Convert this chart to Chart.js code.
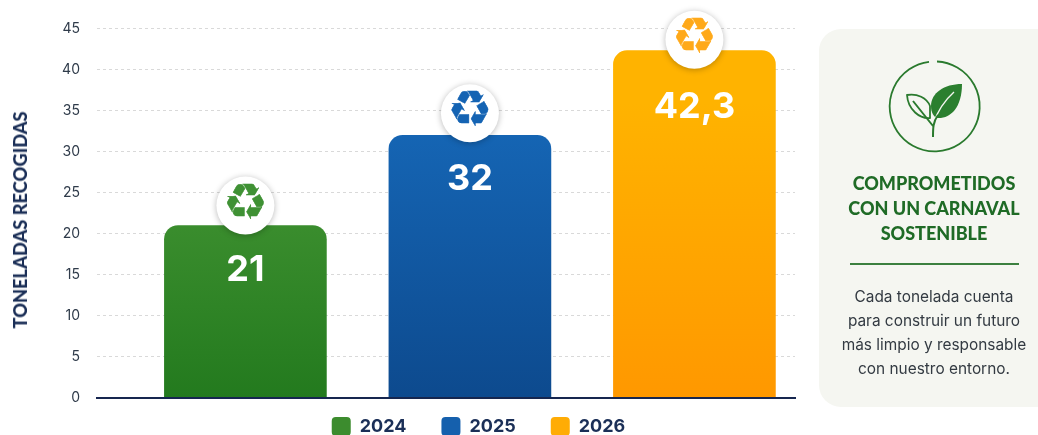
<!DOCTYPE html>
<html lang="es"><head><meta charset="utf-8">
<script src="https://cdn.jsdelivr.net/npm/chart.js@4/dist/chart.umd.min.js"></script>
<style>
html,body{margin:0;padding:0;background:#fff;overflow:hidden}
#wrap{position:relative;width:1038px;height:435px;overflow:hidden}
#cv{position:absolute;left:0;top:0}
#ytitle{position:absolute;left:20px;top:220px;transform:translate(-50%,-50%) rotate(-90deg);white-space:nowrap;font:900 18.3px "Lato",sans-serif;color:#1b2f57}
#panel{position:absolute;left:819px;top:29px;width:240px;height:378px;background:#f5f6f1;border-radius:22px}
#ic{position:absolute;left:880px;top:52px}
.t{position:absolute;left:819px;width:230px;text-align:center;white-space:nowrap}
#h{top:171px;font:900 18px/25px "Lato",sans-serif;color:#1f6b26}
#rule{position:absolute;left:850px;width:169px;top:263px;height:2px;background:#3c8040}
#b{top:285px;font:400 15.4px/24px "Inter",sans-serif;color:#333a42}
</style></head><body>
<div id="wrap">
<div id="panel"></div>
<canvas id="cv" width="956" height="435"></canvas>
<div id="ytitle">TONELADAS RECOGIDAS</div>
<svg id="ic" width="110" height="110" viewBox="880 52 110 110">
<path d="M937 61.5A45 45 0 1 1 929 61.8" fill="none" stroke="#2a7a2e" stroke-width="1.8"/>
<path d="M962 84C944 84 931 93 931 106C931 113 934 117 937 118C950 119 962 108 962 84Z" fill="#2b7f2f"/>
<path d="M954 92C945 100 938 110 933 124" fill="none" stroke="#f5f6f1" stroke-width="1.4"/>
<path d="M907 95C917 93 927 98 930 106L930 118C920 119 908 110 907 95Z" fill="#f5f6f1" stroke="#2a7a2e" stroke-width="1.8" stroke-linejoin="round"/>
<path d="M913 101L933 126M933 137C933 128 933 122 938 115" fill="none" stroke="#2a7a2e" stroke-width="2"/>
</svg>
<div class="t" id="h">COMPROMETIDOS<br>CON UN CARNAVAL<br>SOSTENIBLE</div>
<div id="rule"></div>
<div class="t" id="b">Cada tonelada cuenta<br>para construir un futuro<br>más limpio y responsable<br>con nuestro entorno.</div>
</div>
<script>
const years = [2024, 2025, 2026];
const tons = [21, 32, 42.3];
const valueLabels = ['21', '32', '42,3'];
const topColors = ['#4a9a38', '#1668b8', '#ffb300'];
const bottomColors = ['#237a1e', '#0d4a8e', '#ff9800'];
const legendColors = ['#3c8c2e', '#1560ad', '#ffac05'];
const iconColors = ['#3f9134', '#1463b3', '#ffa91a'];
const yMax = 45, yStep = 5;

function barGradient(i){
  return function(c){
    const a = c.chart.chartArea;
    if(!a) return legendColors[i];
    const g = c.chart.ctx.createLinearGradient(0,a.top,0,a.bottom);
    g.addColorStop(0.2,topColors[i]); g.addColorStop(1,bottomColors[i]);
    return g;
  };
}
const badgePlugin = {
  id:'badges',
  beforeUpdate(chart){
    const lg = chart.legend;
    if(!lg._fitWrapped){
      const fit = lg.fit;
      lg.fit = function(){ fit.call(this); this.height = 29; };
      lg._fitWrapped = true;
    }
  },
  beforeDraw(chart){
    const lg = chart.legend;
    lg.top = chart.chartArea.bottom - 16;
    lg.left = 81; lg.right = chart.chartArea.right + 81;
  },
  afterDatasetsDraw(chart,args,opts){
    const ctx = chart.ctx;
    years.forEach((y,i)=>{
      const el = chart.getDatasetMeta(i).data[0];
      const cy = el.y + opts.badgeOffset[i];
      ctx.save();
      ctx.shadowColor='rgba(0,0,0,.28)'; ctx.shadowBlur=6; ctx.shadowOffsetY=1;
      ctx.fillStyle='#fff';
      ctx.beginPath(); ctx.arc(el.x,cy,opts.badgeRadius,0,Math.PI*2); ctx.fill();
      ctx.restore();
      ctx.save();
      ctx.textAlign='center'; ctx.textBaseline='middle';
      ctx.fillStyle=iconColors[i]; ctx.strokeStyle=iconColors[i]; ctx.lineWidth=0.5;
      ctx.font='bold 50px "DejaVu Sans"';
      ctx.fillText('\u267B',el.x,cy);
      ctx.strokeText('\u267B',el.x,cy);
      ctx.fillStyle='#fff';
      ctx.font='700 36px "Inter",sans-serif';
      ctx.fillText(valueLabels[i],el.x,el.y+opts.labelOffset[i]);
      ctx.restore();
    });
  }
};
new Chart(document.getElementById('cv'),{
  type:'bar',
  data:{datasets:years.map((y,i)=>({
    label:String(y),
    data:[{x:y,y:tons[i]}],
    backgroundColor:barGradient(i),
    borderRadius:{topLeft:14,topRight:14,bottomLeft:0,bottomRight:0},
    borderSkipped:false,
    barThickness:162,
    grouped:false
  }))},
  options:{
    responsive:false,animation:false,
    devicePixelRatio:1,
    layout:{padding:{top:28.5,right:161,bottom:0,left:0}},
    scales:{
      x:{type:'linear',offset:false,min:2023.339,max:2026.448,
        ticks:{display:false},
        grid:{display:false},
        border:{display:true,color:'#16264f',width:2,z:1}},
      y:{min:0,max:yMax,
        afterFit(s){s.width=97;},
        ticks:{stepSize:yStep,padding:17,color:'#2f3b4a',font:{family:'"Inter",sans-serif',size:14}},
        grid:{color:'#d9d9d9',drawTicks:false,lineWidth:1},
        border:{display:false,dash:[3,3]}}
    },
    plugins:{
      tooltip:{enabled:false},
      legend:{position:'bottom',
        labels:{boxWidth:19,boxHeight:19,padding:35,useBorderRadius:true,borderRadius:4,
          color:'#1b2f57',font:{family:'"Inter",sans-serif',size:18,weight:'700'},
          generateLabels(){return years.map((y,i)=>({text:String(y),fillStyle:legendColors[i],strokeStyle:legendColors[i],fontColor:'#1b2f57',lineWidth:0,borderRadius:4,datasetIndex:i,hidden:false}));}}},
      badges:{badgeRadius:29,badgeOffset:[-20,-22,-11],labelOffset:[45,44,57]}
    }
  },
  plugins:[badgePlugin]
});
</script>
</body></html>
